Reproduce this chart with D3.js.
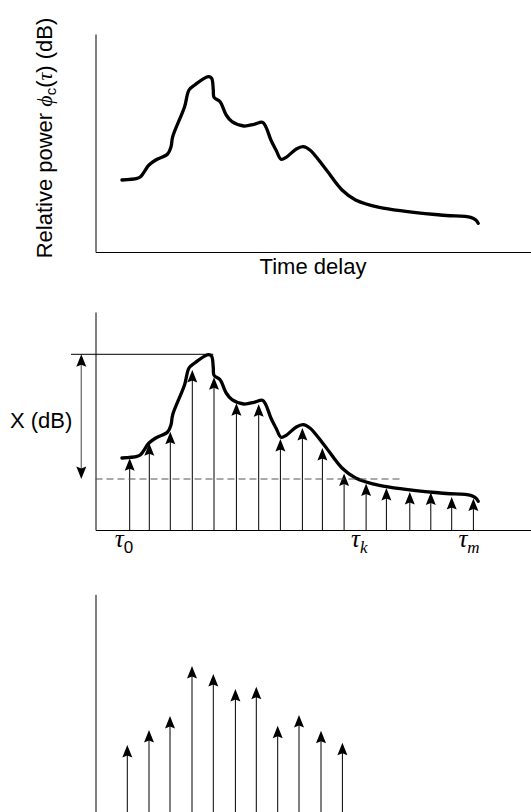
<!DOCTYPE html>
<html><head><meta charset="utf-8">
<script src="https://cdn.jsdelivr.net/npm/d3@7"></script>
<style>
body{margin:0;background:#fff;}
svg{display:block;}
.sans{font-family:"Liberation Sans",Arial,sans-serif;}
.math{font-family:"Liberation Serif","DejaVu Serif",serif;font-style:italic;}
</style></head>
<body>
<svg id="c" width="531" height="812"></svg>
<script>
// ---- data (time delay units, relative power units) ----
const curveDelay = [26.4, 41.6, 45, 53.5, 60.3, 72.1, 75.5, 77.2, 89.1, 93.5, 99.2, 112.8, 116.1, 117.8, 118.5, 124.6, 130.7, 136.5, 148.3, 158.5, 166.9, 170.3, 175.4, 180.5, 185.6, 190.7, 200.8, 207.6, 214.4, 229.6, 246.5, 260.1, 283.8, 344.7, 375.2, 380.3, 382.7];
const curvePower = [72, 73.7, 75.3, 87, 92, 98, 105.3, 115.3, 145.3, 162, 167, 175.3, 173.7, 162, 154.7, 150.3, 137, 130.3, 126, 127.7, 129.7, 125.3, 112, 102, 92.7, 94.7, 103, 105.3, 102, 83.7, 62, 52, 44.7, 37, 34.7, 32, 28.7];
const stemDelay = [34.2, 53.8, 74.8, 96.8, 118.5, 140.9, 163.2, 184.9, 206.9, 226.9, 248.6, 270.6, 290.9, 314.3, 335.3, 356.2, 377.9];
const stemPower = [71.7, 86.7, 98.3, 160, 152.7, 126.7, 125.7, 91, 102, 82, 56.5, 46.5, 42, 38, 37.5, 33, 31.5];
const keptDelay = [31.8, 53.5, 74.5, 96.5, 117.8, 139.9, 160.8, 182.2, 203.5, 225.5, 246.9];
const keptPower = [67.3, 82.3, 96.3, 146.3, 138.3, 123.3, 125.6, 86.6, 97.3, 81.6, 69.6];
const peakPower = 175.7;
const thresholdPower = 51;
const thresholdEnd = 304.1;
const tauSubs = ["0", "k", "m"];
const tauIndex = [0, 11, 16];
const yTitle = "Relative power";
const xTitle = "Time delay";
const xLabel = "X (dB)";

// ---- layout ----
const svg = d3.select("#c");
const x = d3.scaleLinear().domain([0, 435.5]).range([95.5, 531]);
const span = 218;
const panels = [252, 530, 812.3];
const yFor = b => d3.scaleLinear().domain([0, span]).range([b, b - span]);
const arrowPath = "M0,0 L5,12.5 L0,10.5 L-5,12.5 Z";

function axes(g, y, withX) {
  g.append("g").attr("transform", `translate(${x(0)},0)`)
    .call(d3.axisLeft(y).ticks(0).tickSizeOuter(0))
    .call(a => a.select(".domain").attr("stroke", "#000").attr("stroke-width", 1));
  if (withX) {
    g.append("g").attr("transform", `translate(0,${y(0)})`)
      .call(d3.axisBottom(x).ticks(0).tickSizeOuter(0))
      .call(a => a.select(".domain").attr("stroke", "#000").attr("stroke-width", 1));
  }
}
const pts = curveDelay.map((d, i) => [d, curvePower[i]]);
function drawCurve(g, y) {
  g.append("path").datum(pts)
    .attr("d", d3.line().x(d => x(d[0])).y(d => y(d[1])).curve(d3.curveCatmullRom.alpha(0.5)))
    .attr("fill", "none").attr("stroke", "#000").attr("stroke-width", 3.3)
    .attr("stroke-linejoin", "round").attr("stroke-linecap", "round");
}
function drawStems(g, y, delays, powers) {
  const s = g.append("g");
  s.selectAll("line").data(powers).join("line")
    .attr("x1", (d, i) => x(delays[i])).attr("x2", (d, i) => x(delays[i]))
    .attr("y1", y(0)).attr("y2", d => y(d) + 8)
    .attr("stroke", "#000").attr("stroke-width", 1);
  s.selectAll("path").data(powers).join("path")
    .attr("d", arrowPath)
    .attr("transform", (d, i) => `translate(${x(delays[i])},${y(d)})`)
    .attr("fill", "#000");
}

// Panel 1
const y1 = yFor(panels[0]);
const g1 = svg.append("g");
axes(g1, y1, true);
drawCurve(g1, y1);
const t1 = svg.append("text").attr("class", "sans").attr("font-size", 22)
  .attr("text-anchor", "middle").attr("transform", "translate(52,138) rotate(-90)");
t1.append("tspan").text(yTitle + " ");
t1.append("tspan").attr("class", "math").text("ϕ");
t1.append("tspan").attr("font-size", 15).attr("dy", 4).text("c");
t1.append("tspan").attr("dy", -4).text("(");
t1.append("tspan").attr("class", "math").text("τ");
t1.append("tspan").text(") (dB)");
svg.append("text").attr("class", "sans").attr("font-size", 22).attr("text-anchor", "middle")
  .attr("x", 313).attr("y", 274).text(xTitle);

// Panel 2
const y2 = yFor(panels[1]);
const g2 = svg.append("g");
axes(g2, y2, true);
drawStems(g2, y2, stemDelay, stemPower);
drawCurve(g2, y2);
g2.append("line").attr("x1", 71).attr("x2", x(117.8)).attr("y1", y2(peakPower)).attr("y2", y2(peakPower))
  .attr("stroke", "#000").attr("stroke-width", 1);
g2.append("line").attr("x1", x(0)).attr("x2", x(thresholdEnd)).attr("y1", y2(thresholdPower)).attr("y2", y2(thresholdPower))
  .attr("stroke", "#555").attr("stroke-width", 1.2).attr("stroke-dasharray", "7,4");
g2.append("line").attr("x1", 81.3).attr("x2", 81.3).attr("y1", y2(peakPower) + 8).attr("y2", y2(thresholdPower) - 8)
  .attr("stroke", "#7a7a7a").attr("stroke-width", 1.4);
g2.append("path").attr("d", arrowPath).attr("fill", "#000")
  .attr("transform", `translate(81.3,${y2(peakPower)})`);
g2.append("path").attr("d", arrowPath).attr("fill", "#000")
  .attr("transform", `translate(81.3,${y2(thresholdPower)}) rotate(180)`);
svg.append("text").attr("class", "sans").attr("font-size", 22).attr("x", 10).attr("y", 428).text(xLabel);
tauSubs.forEach((s, k) => {
  const t = svg.append("text").attr("x", x(stemDelay[tauIndex[k]]) - 15).attr("y", 547);
  t.append("tspan").attr("class", "math").attr("font-size", 25).text("τ");
  t.append("tspan").attr("class", s === "0" ? "sans" : "math").attr("font-size", 17).attr("dy", 6).text(s);
});

// Panel 3
const y3 = yFor(panels[2]);
const g3 = svg.append("g");
axes(g3, y3, false);
drawStems(g3, y3, keptDelay, keptPower);
</script>
</body></html>
